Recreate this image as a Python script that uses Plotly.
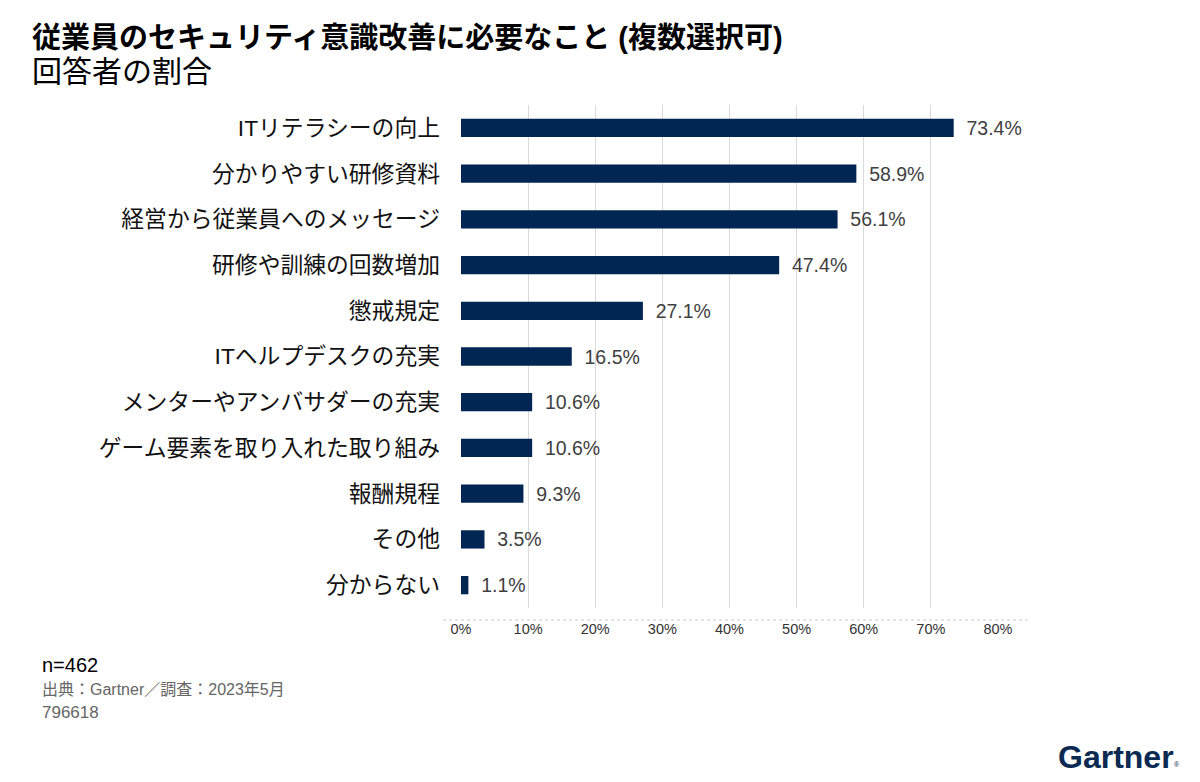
import plotly.graph_objects as go

categories = ["ITリテラシーの向上", "分かりやすい研修資料", "経営から従業員へのメッセージ",
              "研修や訓練の回数増加", "懲戒規定", "ITヘルプデスクの充実",
              "メンターやアンバサダーの充実", "ゲーム要素を取り入れた取り組み",
              "報酬規程", "その他", "分からない"]
values = [73.4, 58.9, 56.1, 47.4, 27.1, 16.5, 10.6, 10.6, 9.3, 3.5, 1.1]
tick_vals = [0, 10, 20, 30, 40, 50, 60, 70, 80]
tick_text = ["0%", "10%", "20%", "30%", "40%", "50%", "60%", "70%", "80%"]

FONT = "Liberation Sans, Arial, Noto Sans CJK JP, sans-serif"

# reference plot area (page pixels): x 461..998, y 105..608
PL, PR, PT, PB = 461, 998, 105, 608
OFF = 8  # body margin of the html page
W, H = 1200 - OFF, 782 - OFF


def px(X):
    return (X - PL) / (PR - PL)


def py(Y):
    return 1 - (Y - PT) / (PB - PT)


fig = go.Figure(go.Bar(
    x=values, y=categories, orientation="h",
    marker=dict(color="#022654", line=dict(width=0)),
    width=0.4,
    text=[f"\u2002{v:.1f}%" for v in values], textposition="outside",
    textfont=dict(size=19.5, color="#404040", family=FONT),
    constraintext="none",
    cliponaxis=False,
))

fig.update_layout(
    width=W, height=H,
    paper_bgcolor="white", plot_bgcolor="white",
    margin=dict(l=PL - OFF, r=W - (PR - OFF), t=PT - OFF, b=H - (PB - OFF)),
    font=dict(family=FONT, color="#000"),
    showlegend=False,
    xaxis=dict(range=[0, 80], tickvals=tick_vals, ticktext=tick_text,
               showgrid=True, gridcolor="#d9d9d9", gridwidth=1,
               zeroline=False, showline=False, ticks="",
               tickfont=dict(size=14.5, color="#333"), ticklabelstandoff=10),
    yaxis=dict(autorange="reversed", showgrid=False, zeroline=False, ticks="",
               tickfont=dict(size=22.8, color="#111"), ticklabelstandoff=20),
    bargap=0.6,
)

fig.add_shape(type="line", xref="paper", yref="paper", x0=px(443), x1=px(1030), y0=py(620), y1=py(620),
              line=dict(color="#c8c8c8", width=1, dash="dot"))

fig.add_annotation(xref="paper", yref="paper", x=px(30), y=py(38),
                   xanchor="left", yanchor="middle", showarrow=False,
                   text="<b>従業員のセキュリティ意識改善に必要なこと (複数選択可)</b>",
                   font=dict(size=29, color="#000", family=FONT))
fig.add_annotation(xref="paper", yref="paper", x=px(30), y=py(72),
                   xanchor="left", yanchor="middle", showarrow=False,
                   text="回答者の割合", font=dict(size=30, color="#000", family=FONT))

fig.add_annotation(xref="paper", yref="paper", x=px(40), y=py(665),
                   xanchor="left", yanchor="middle", showarrow=False,
                   text="n=462", font=dict(size=20, color="#000", family=FONT))
fig.add_annotation(xref="paper", yref="paper", x=px(40), y=py(689),
                   xanchor="left", yanchor="middle", showarrow=False,
                   text="出典：Gartner／調査：2023年5月", font=dict(size=16, color="#666", family=FONT))
fig.add_annotation(xref="paper", yref="paper", x=px(40), y=py(712),
                   xanchor="left", yanchor="middle", showarrow=False,
                   text="796618", font=dict(size=17, color="#666", family=FONT))
fig.add_annotation(xref="paper", yref="paper", x=px(1176), y=py(757),
                   xanchor="right", yanchor="middle", showarrow=False,
                   text="<b>Gartner</b>", font=dict(size=32, color="#0b2a52", family="Liberation Sans, Arial"))
fig.add_annotation(xref="paper", yref="paper", x=px(1182), y=py(764),
                   xanchor="right", yanchor="middle", showarrow=False,
                   text="®", font=dict(size=7, color="#0b2a52", family="Liberation Sans, Arial"))

fig.write_html("out.html")
